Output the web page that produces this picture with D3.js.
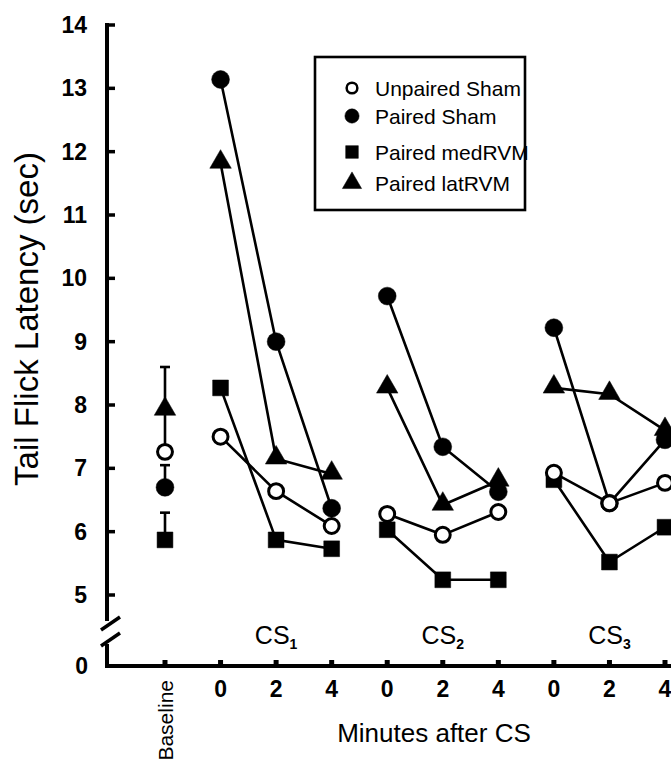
<!DOCTYPE html>
<html lang="en">
<head>
<meta charset="UTF-8">
<title>Tail flick latency</title>
<style>
  body { margin: 0; background: #fff; }
  svg { display: block; font-family: "Liberation Sans", Arial, sans-serif; }
</style>
<script src="https://d3js.org/d3.v7.min.js"></script>
</head>
<body>
<div id="chart"></div>
<script>
// data
var groups = ["Unpaired Sham", "Paired Sham", "Paired medRVM", "Paired latRVM"];
var xLabels = ["Baseline", "0", "2", "4", "0", "2", "4", "0", "2", "4"];
var blocks = ["1", "2", "3"];          // CS subscripts
var yTicks = [5, 6, 7, 8, 9, 10, 11, 12, 13, 14];

var unpairedSham  = [7.26, 7.50, 6.64, 6.09, 6.28, 5.95, 6.31, 6.93, 6.45, 6.77];
var pairedSham    = [6.70, 13.14, 9.00, 6.37, 9.72, 7.34, 6.63, 9.22, 6.45, 7.45];
var pairedMedRVM  = [5.87, 8.27, 5.87, 5.73, 6.03, 5.24, 5.24, 6.82, 5.52, 6.07];
var pairedLatRVM  = [7.92, 11.82, 7.15, 6.91, 8.27, 6.42, 6.80, 8.27, 8.17, 7.60];
// baseline error bars (upward), same order as groups
var baselineSem   = [0.64, 0.35, 0.43, 0.68];

var width = 671, height = 767;
var axisX = 107, axisY = 666;

var svg = d3.select("#chart").append("svg")
    .attr("width", width)
    .attr("height", height);

var x = d3.scaleLinear().domain([0, 9]).range([165, 665]);
var y = d3.scaleLinear().domain([5, 14]).range([595, 25]);

var symbolFor = {
  "Unpaired Sham": d3.symbolCircle,
  "Paired Sham": d3.symbolCircle,
  "Paired medRVM": d3.symbolSquare,
  "Paired latRVM": d3.symbolTriangle
};
var sizeFor = { "Unpaired Sham": 175, "Paired Sham": 250, "Paired medRVM": 250, "Paired latRVM": 200 };

var series = [
  { name: "Paired Sham", values: pairedSham, open: false },
  { name: "Paired medRVM", values: pairedMedRVM, open: false },
  { name: "Paired latRVM", values: pairedLatRVM, open: false },
  { name: "Unpaired Sham", values: unpairedSham, open: true }
];

// ---- axes ----
var ax = svg.append("g").attr("stroke", "#000").attr("stroke-width", 4).attr("fill", "none");
ax.append("line").attr("x1", axisX).attr("x2", axisX).attr("y1", 23).attr("y2", 621);
ax.append("line").attr("x1", axisX).attr("x2", axisX).attr("y1", 644).attr("y2", axisY + 2);
ax.append("line").attr("x1", axisX - 2).attr("x2", width).attr("y1", axisY).attr("y2", axisY);
// axis break
ax.append("line").attr("x1", 101).attr("y1", 630).attr("x2", 120).attr("y2", 617).attr("stroke-width", 3.5);
ax.append("line").attr("x1", 101).attr("y1", 646).attr("x2", 120).attr("y2", 633).attr("stroke-width", 3.5);

// y ticks
ax.selectAll(".yt").data(yTicks).enter().append("line")
    .attr("x1", axisX).attr("x2", axisX + 8)
    .attr("y1", function(d) { return y(d); })
    .attr("y2", function(d) { return y(d); })
    .attr("stroke-width", 3.5);

svg.selectAll(".ylab").data(yTicks).enter().append("text")
    .attr("x", 87)
    .attr("y", function(d) { return y(d) + 8; })
    .attr("text-anchor", "end")
    .attr("font-size", 23)
    .attr("font-weight", "bold")
    .text(function(d) { return d; });
svg.append("text")
    .attr("x", 88).attr("y", axisY + 8)
    .attr("text-anchor", "end")
    .attr("font-size", 23)
    .attr("font-weight", "bold")
    .text("0");

// x ticks
svg.selectAll(".xt").data(xLabels).enter().append("rect")
    .attr("x", function(d, i) { return x(i) - 2.5; })
    .attr("y", axisY - 6)
    .attr("width", 5).attr("height", 6)
    .attr("fill", "#000");

svg.selectAll(".xlab").data(xLabels.slice(1)).enter().append("text")
    .attr("x", function(d, i) { return x(i + 1); })
    .attr("y", 697)
    .attr("text-anchor", "middle")
    .attr("font-size", 23)
    .attr("font-weight", "bold")
    .text(function(d) { return d; });

svg.append("text")
    .attr("transform", "translate(" + (x(0) + 8) + ",680) rotate(-90)")
    .attr("text-anchor", "end")
    .attr("font-size", 21)
    .text(xLabels[0]);

svg.append("text")
    .attr("x", 434).attr("y", 742)
    .attr("text-anchor", "middle")
    .attr("font-size", 26)
    .text("Minutes after CS");

svg.append("text")
    .attr("transform", "translate(38,319) rotate(-90)")
    .attr("text-anchor", "middle")
    .attr("font-size", 33)
    .text("Tail Flick Latency (sec)");

// CS block labels
var cs = svg.selectAll(".cs").data(blocks).enter().append("text")
    .attr("x", function(d, i) { return x(2 + i * 3); })
    .attr("y", 644)
    .attr("text-anchor", "middle")
    .attr("font-size", 25);
cs.append("tspan").text("CS");
cs.append("tspan").attr("font-size", 14).attr("font-weight", "bold").attr("dy", 5).text(function(d) { return d; });

// ---- lines within each CS block ----
var line = d3.line()
    .x(function(d) { return x(d.i); })
    .y(function(d) { return y(d.v); });

series.forEach(function(s) {
  blocks.forEach(function(b, k) {
    var pts = [1, 2, 3].map(function(j) {
      var i = k * 3 + j;
      return { i: i, v: s.values[i] };
    });
    svg.append("path")
        .attr("d", line(pts))
        .attr("fill", "none")
        .attr("stroke", "#000")
        .attr("stroke-width", 2.6);
  });
});

// ---- baseline error bars ----
series.forEach(function(s) {
  var sem = baselineSem[groups.indexOf(s.name)];
  var v0 = s.values[0];
  var g = svg.append("g").attr("stroke", "#000").attr("stroke-width", 2.6);
  g.append("line").attr("x1", x(0)).attr("x2", x(0))
      .attr("y1", y(v0)).attr("y2", y(v0 + sem));
  g.append("line").attr("x1", x(0) - 5).attr("x2", x(0) + 5)
      .attr("y1", y(v0 + sem)).attr("y2", y(v0 + sem));
});

// ---- markers ----
series.forEach(function(s) {
  svg.selectAll(null).data(s.values).enter().append("path")
      .attr("transform", function(d, i) {
        var dy = s.name === "Paired latRVM" ? -1 : 0;
        return "translate(" + x(i) + "," + (y(d) + dy) + ")";
      })
      .attr("d", d3.symbol().type(symbolFor[s.name]).size(sizeFor[s.name]))
      .attr("fill", s.open ? "#fff" : "#000")
      .attr("stroke", "#000")
      .attr("stroke-width", s.open ? 3 : 0.5);
});

// ---- legend ----
var lg = svg.append("g").attr("transform", "translate(315,57)");
lg.append("rect")
    .attr("width", 210).attr("height", 153)
    .attr("fill", "#fff").attr("stroke", "#000").attr("stroke-width", 2.6);

var legendRows = [
  { name: groups[0], open: true, cy: 31 },
  { name: groups[1], open: false, cy: 59 },
  { name: groups[2], open: false, cy: 95 },
  { name: groups[3], open: false, cy: 126 }
];
var lr = lg.selectAll(".lr").data(legendRows).enter().append("g")
    .attr("transform", function(d) { return "translate(37," + d.cy + ")"; });
lr.append("path")
    .attr("d", function(d) {
      var sz = d.open ? 90 : 160;
      return d3.symbol().type(symbolFor[d.name]).size(sz)();
    })
    .attr("fill", function(d) { return d.open ? "#fff" : "#000"; })
    .attr("stroke", "#000")
    .attr("stroke-width", function(d) { return d.open ? 2.5 : 0.5; });
lr.append("text")
    .attr("x", 23).attr("y", 8)
    .attr("font-size", 21)
    .text(function(d) { return d.name; });
</script>
</body>
</html>
